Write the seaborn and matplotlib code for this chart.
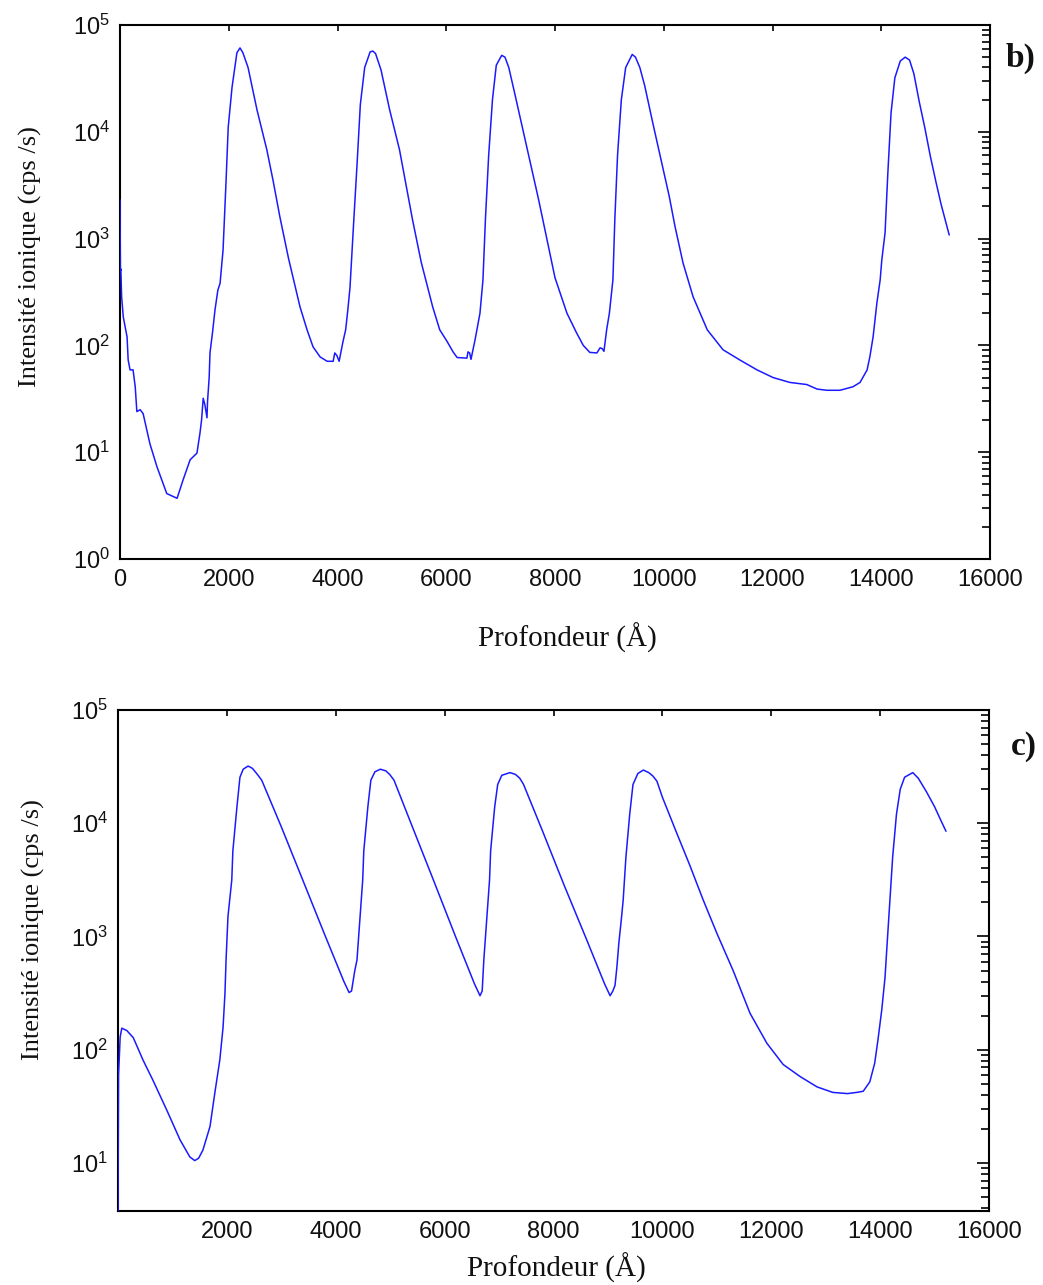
import numpy as np
import pandas as pd
import matplotlib
matplotlib.use("Agg")
import matplotlib.pyplot as plt
import seaborn as sns
from matplotlib.ticker import LogLocator, FuncFormatter, NullFormatter, NullLocator, FixedLocator

# ---------------- data ----------------
b_depth = [0, 8, 15, 30, 60, 130, 150, 185, 240, 280, 310, 370, 425, 550, 680, 860,
           1050, 1160, 1290, 1415, 1470, 1500, 1530, 1560, 1600, 1610, 1640, 1655, 1700,
           1747, 1800, 1840, 1895, 1950, 1990, 2060, 2150, 2207, 2260, 2355, 2520, 2700,
           2815, 2940, 3100, 3310, 3440, 3550, 3680, 3810, 3920, 3950, 3990, 4030, 4100,
           4150, 4190, 4230, 4300, 4360, 4420, 4500, 4600, 4650, 4700, 4800, 4960, 5140,
           5255, 5380, 5540, 5750, 5880, 6010, 6125, 6200, 6380, 6400, 6430, 6455,
           6530, 6620, 6675, 6720, 6780, 6850, 6920, 7020, 7080, 7150, 7250, 7400, 7550,
           7700, 7850, 8000, 8220, 8400, 8520, 8640, 8770, 8830, 8870, 8900, 8950, 9000,
           9065, 9100, 9150, 9220, 9300, 9420, 9480, 9560, 9650, 9800, 9950, 10100, 10207,
           10355, 10540, 10800, 11090, 11400, 11715, 12010, 12320, 12630, 12820, 13000,
           13240, 13480, 13610, 13740, 13790, 13850, 13920, 13980, 14010, 14070, 14120,
           14180, 14250, 14350, 14440, 14520, 14600, 14700, 14800, 14900, 15000, 15100, 15250]
b_intensity = [2300, 500, 520, 285, 185, 120, 73, 59, 59, 41, 24, 25, 23, 12, 7.3, 4.1,
               3.7, 5.5, 8.5, 9.8, 15, 20, 32, 28, 21, 30, 50, 85, 130,
               215, 330, 380, 780, 3400, 11000, 26000, 55000, 61000, 55000, 40000, 16000, 6800,
               3500, 1600, 650, 230, 140, 97, 78, 71, 71, 85, 80, 71, 108,
               140, 215, 350, 1500, 5000, 18000, 40000, 56000, 57000, 54000, 38000, 16000, 6800,
               3300, 1500, 600, 230, 140, 110, 87, 77, 76, 87, 85, 74,
               113, 200, 410, 1500, 6000, 20000, 42000, 52000, 50000, 40000, 24000, 11000, 5000,
               2300, 1000, 430, 200, 130, 100, 86, 85, 95, 93, 88, 140, 200,
               410, 1500, 6000, 20000, 40000, 53000, 50000, 40000, 27000, 12000, 5500, 2500, 1300,
               590, 285, 140, 91, 73, 59, 50, 45, 43, 39, 38,
               38, 41, 45, 59, 78, 120, 250, 410, 630, 1130, 4000,
               15000, 32000, 46000, 50000, 47000, 35000, 19000, 11000, 6000, 3500, 2100, 1080]

c_depth = [0, 10, 40, 70, 160, 280, 460, 640, 900, 1140, 1320, 1410, 1480, 1560, 1690,
           1780, 1870, 1930, 1965, 1985, 2020, 2090, 2110, 2185, 2240, 2300, 2390, 2470,
           2560, 2640, 3000, 3400, 3800, 4150, 4245, 4290, 4350, 4390, 4495, 4515, 4590, 4645,
           4720, 4820, 4920, 4990, 5070, 5400, 5800, 6200, 6550, 6650, 6690, 6720, 6825, 6845,
           6920, 6975, 7050, 7200, 7300, 7380, 7450, 7800, 8200, 8600, 8940, 9040, 9090, 9130,
           9165, 9200, 9250, 9280, 9330, 9400, 9460, 9550, 9650, 9750, 9830, 9900, 10000, 10250,
           10500, 10750, 11000, 11300, 11610, 11920, 12220, 12530, 12840, 13130, 13400,
           13570, 13690, 13810, 13900, 13960, 14030, 14090, 14125, 14180, 14230, 14300,
           14370, 14450, 14600, 14700, 14850, 15000, 15100, 15210]
c_intensity = [3, 60, 130, 155, 148, 128, 81, 54, 29, 16, 11.3, 10.5, 11, 13, 21,
               42, 81, 158, 316, 620, 1500, 3150, 5700, 14000, 25500, 30000, 32000, 30500,
               27000, 24000, 9300, 3100, 1030, 400, 320, 330, 500, 620, 3150, 5700, 14000, 24000,
               28500, 30000, 29000, 27000, 24000, 9500, 3100, 1000, 380, 300, 330, 620, 3150, 5700,
               14000, 22000, 26500, 28000, 27000, 25000, 22000, 8500, 2800, 960, 380, 300, 330, 370,
               540, 870, 1480, 2100, 5000, 12000, 22000, 27500, 29500, 28000, 26000, 23500, 17000, 8500,
               4300, 2100, 1070, 500, 210, 114, 74, 58, 47, 42, 41,
               42, 43, 52, 76, 122, 225, 435, 810, 2100, 5000, 12000,
               20000, 25500, 28000, 25000, 19000, 14000, 11000, 8500]

b_xticks = [0, 2000, 4000, 6000, 8000, 10000, 12000, 14000, 16000]
c_xticks = [2000, 4000, 6000, 8000, 10000, 12000, 14000, 16000]
xlabel_text = "Profondeur (Å)"
ylabel_text = "Intensité ionique (cps /s)"

assert len(b_depth) == len(b_intensity)
assert len(c_depth) == len(c_intensity)

# ---------------- style ----------------
sns.set_theme(style="white")
plt.rcParams["font.family"] = ["Liberation Sans", "DejaVu Sans"]
plt.rcParams["mathtext.default"] = "regular"

W, H = 1043, 1285
fig = plt.figure(figsize=(W / 100, H / 100), dpi=100)
fig.patch.set_facecolor("white")


def ax_px(l, t, r, b):
    return fig.add_axes([l / W, 1 - b / H, (r - l) / W, (b - t) / H])


ax1 = ax_px(120, 25, 990, 559)
ax2 = ax_px(118, 710, 989, 1211)

df_b = pd.DataFrame({"depth": b_depth, "intensity": b_intensity})
df_c = pd.DataFrame({"depth": c_depth, "intensity": c_intensity})

sns.lineplot(data=df_b, x="depth", y="intensity", ax=ax1, color="#1a1aff",
             lw=1.1, sort=False, estimator=None, zorder=3)
sns.lineplot(data=df_c, x="depth", y="intensity", ax=ax2, color="#1a1aff",
             lw=1.1, sort=False, estimator=None, zorder=3)

logfmt = FuncFormatter(lambda v, p: f"$10^{{{int(round(np.log10(v)))}}}$")

for ax, ylim, xt in ((ax1, (1, 1e5), b_xticks), (ax2, (10 ** 0.576, 1e5), c_xticks)):
    ax.set_yscale("log")
    ax.set_xlim(0, 16000)
    ax.set_ylim(*ylim)
    ax.set_facecolor("white")
    ax.xaxis.set_major_locator(FixedLocator(xt))
    ax.xaxis.set_minor_locator(NullLocator())
    ax.yaxis.set_major_locator(LogLocator(base=10, numticks=10))
    ax.yaxis.set_minor_locator(LogLocator(base=10, subs=np.arange(2, 10), numticks=20))
    ax.yaxis.set_minor_formatter(NullFormatter())
    ax.yaxis.set_major_formatter(logfmt)
    ax.tick_params(which="both", direction="in", top=True, right=True,
                   labelsize=17, width=1.2, color="black", labelcolor="#111111")
    ax.tick_params(axis="y", which="major", length=9, pad=7)
    ax.tick_params(axis="y", which="minor", length=6)
    ax.tick_params(axis="x", which="major", length=4, pad=7)
    for s in ax.spines.values():
        s.set_linewidth(1.5)
        s.set_color("black")
    ax.set_xlabel("")
    ax.set_ylabel("")
    ax.grid(False)

serif = ["Liberation Serif", "DejaVu Serif"]
fig.text(567 / W, 1 - 638 / H, xlabel_text, ha="center", va="center",
         family=serif, fontsize=21, color="#111111")
fig.text(556 / W, 1 - 1268 / H, xlabel_text, ha="center", va="center",
         family=serif, fontsize=21, color="#111111")
fig.text(30 / W, 1 - 257 / H, ylabel_text, ha="center", va="center", rotation=90,
         family=serif, fontsize=19, color="#111111")
fig.text(33 / W, 1 - 930 / H, ylabel_text, ha="center", va="center", rotation=90,
         family=serif, fontsize=19, color="#111111")
fig.text(1020 / W, 1 - 58 / H, "b)", ha="center", va="center", family=serif,
         fontsize=24, weight="bold", color="#111111")
fig.text(1024 / W, 1 - 746 / H, "c)", ha="center", va="center", family=serif,
         fontsize=24, weight="bold", color="#111111")

fig.savefig("out.png", dpi=100)
